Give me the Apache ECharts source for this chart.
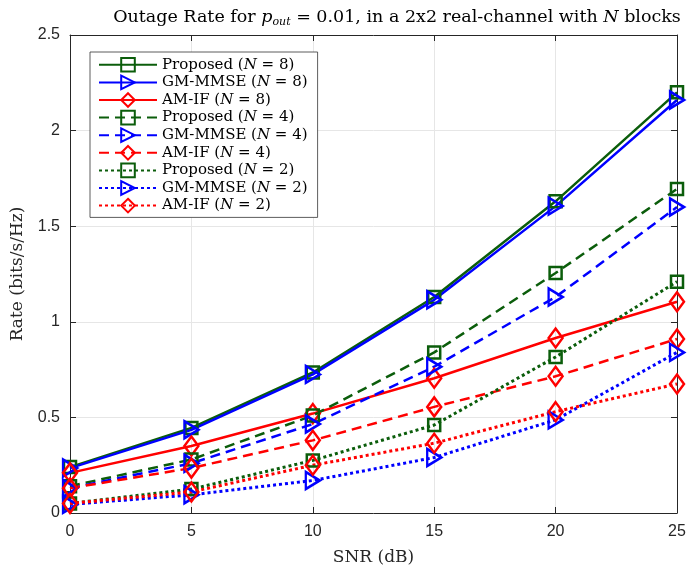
<!DOCTYPE html>
<html>
<head>
<meta charset="utf-8">
<script src="https://cdn.jsdelivr.net/npm/echarts@6/dist/echarts.min.js"></script>
<style>
  html, body { margin: 0; padding: 0; background: #fff; }
  #chart { width: 687px; height: 566px; }
</style>
</head>
<body>
<div id="chart"></div>
<script>
// SNR values (dB)
var snr = [0, 5, 10, 15, 20, 25];

// rates (bits/s/Hz)
var proposed8 = [0.24, 0.445, 0.735, 1.13, 1.63, 2.20];
var gmmmse8   = [0.235, 0.435, 0.725, 1.115, 1.605, 2.16];
var amif8     = [0.21, 0.35, 0.52, 0.705, 0.915, 1.105];
var proposed4 = [0.14, 0.28, 0.51, 0.84, 1.255, 1.695];
var gmmmse4   = [0.13, 0.26, 0.465, 0.765, 1.13, 1.60];
var amif4     = [0.13, 0.235, 0.38, 0.555, 0.715, 0.91];
var proposed2 = [0.05, 0.125, 0.275, 0.46, 0.816, 1.21];
var gmmmse2   = [0.045, 0.095, 0.17, 0.29, 0.487, 0.84];
var amif2     = [0.05, 0.11, 0.25, 0.365, 0.53, 0.675];

var xTicks = [0, 5, 10, 15, 20, 25];
var yTicks = [0, 0.5, 1, 1.5, 2, 2.5];

var green = '#0b5d0b', blue = '#0000ff', red = '#ff0000';
var triPath = 'path://M0,0 L10,6 L0,12 Z';

function pairs(vals) {
  return snr.map(function (s, i) { return [s, vals[i]]; });
}

function mk(name, vals, color, kind, dash) {
  var sym = 'rect', size = 12;
  if (kind === 'tri') { sym = triPath; size = [14, 17]; }
  if (kind === 'dia') { sym = 'diamond'; size = [14, 19]; }
  return {
    name: name,
    type: 'line',
    data: pairs(vals),
    symbol: sym,
    symbolSize: size,
    showAllSymbol: true,
    lineStyle: { color: color, width: dash === 'dotted' ? 3 : 2.5,
      type: dash === 'dashed' ? [10, 6] : dash === 'dotted' ? [3, 3] : 'solid' },
    itemStyle: { color: 'rgba(255,255,255,0)', borderColor: color, borderWidth: 2.5 },
    emphasis: { disabled: true },
    z: 3
  };
}

function lbl(method, n) {
  return method + ' ({i|N} = ' + n + ')';
}

var series = [
  mk(lbl('Proposed', 8), proposed8, green, 'sq', 'solid'),
  mk(lbl('GM-MMSE', 8), gmmmse8, blue, 'tri', 'solid'),
  mk(lbl('AM-IF', 8), amif8, red, 'dia', 'solid'),
  mk(lbl('Proposed', 4), proposed4, green, 'sq', 'dashed'),
  mk(lbl('GM-MMSE', 4), gmmmse4, blue, 'tri', 'dashed'),
  mk(lbl('AM-IF', 4), amif4, red, 'dia', 'dashed'),
  mk(lbl('Proposed', 2), proposed2, green, 'sq', 'dotted'),
  mk(lbl('GM-MMSE', 2), gmmmse2, blue, 'tri', 'dotted'),
  mk(lbl('AM-IF', 2), amif2, red, 'dia', 'dotted')
];

var serif = 'DejaVu Serif';
var sans = 'Liberation Sans';
var axisCol = '#262626';

var chart = echarts.init(document.getElementById('chart'));
chart.setOption({
  animation: false,
  backgroundColor: '#fff',
  title: {
    text: 'Outage Rate for {i|p}{sub|out}{t| = 0.01, in a 2x2 real-channel with }{i|N}{t| blocks}',
    left: 392, top: 2, textAlign: 'center',
    textStyle: {
      fontFamily: serif, fontSize: 17.5, fontWeight: 'normal', color: '#000',
      rich: {
        i: { fontFamily: serif, fontStyle: 'italic', fontSize: 17.5, color: '#000' },
        sub: { fontFamily: serif, fontStyle: 'italic', fontSize: 11, color: '#000', padding: [10, 0, 0, 0] },
        t: { fontFamily: serif, fontSize: 17.5, color: '#000' }
      }
    }
  },
  grid: { left: 70, right: 10, top: 35, bottom: 53, containLabel: false, outerBoundsMode: 'none' },
  legend: {
    left: 90, top: 52,
    orient: 'vertical',
    itemWidth: 58, itemHeight: 17, itemGap: 2,
    padding: [5, 10, 4, 8],
    backgroundColor: '#fff',
    borderColor: '#333', borderWidth: 0.8,
    data: series.map(function (s) { return s.name; }),
    textStyle: {
      fontFamily: serif, fontSize: 15, color: '#000',
      rich: { i: { fontFamily: serif, fontStyle: 'italic', fontSize: 15, color: '#000' } }
    }
  },
  xAxis: [{
    type: 'value', min: 0, max: 25, interval: 5,
    name: 'SNR (dB)', nameLocation: 'middle', nameGap: 36,
    nameTextStyle: { fontFamily: serif, fontSize: 17, color: axisCol },
    axisLine: { lineStyle: { color: axisCol, width: 1 } },
    axisTick: { inside: true, length: 6, lineStyle: { color: axisCol } },
    axisLabel: { fontFamily: sans, fontSize: 16, color: axisCol, margin: 11,
      formatter: function (v) { return xTicks.indexOf(v) >= 0 ? String(v) : ''; } },
    splitLine: { show: true, lineStyle: { color: '#e6e6e6', width: 1 } }
  }, {
    type: 'value', min: 0, max: 25, interval: 5, position: 'top',
    axisLine: { show: true, onZero: false, lineStyle: { color: axisCol, width: 1 } },
    axisTick: { show: true, inside: true, length: 6, lineStyle: { color: axisCol } },
    axisLabel: { show: false }, splitLine: { show: false }
  }],
  yAxis: [{
    type: 'value', min: 0, max: 2.5, interval: 0.5,
    name: 'Rate (bits/s/Hz)', nameLocation: 'middle', nameGap: 44,
    nameTextStyle: { fontFamily: serif, fontSize: 17, color: axisCol },
    axisLine: { show: true, lineStyle: { color: axisCol, width: 1 } },
    axisTick: { show: true, inside: true, length: 6, lineStyle: { color: axisCol } },
    axisLabel: { fontFamily: sans, fontSize: 16, color: axisCol, margin: 10,
      formatter: function (v) { return yTicks.indexOf(v) >= 0 ? String(v) : ''; } },
    splitLine: { show: true, lineStyle: { color: '#e6e6e6', width: 1 } }
  }, {
    type: 'value', min: 0, max: 2.5, interval: 0.5, position: 'right',
    axisLine: { show: true, onZero: false, lineStyle: { color: axisCol, width: 1 } },
    axisTick: { show: true, inside: true, length: 6, lineStyle: { color: axisCol } },
    axisLabel: { show: false }, splitLine: { show: false }
  }],
  series: series
});
</script>
</body>
</html>
